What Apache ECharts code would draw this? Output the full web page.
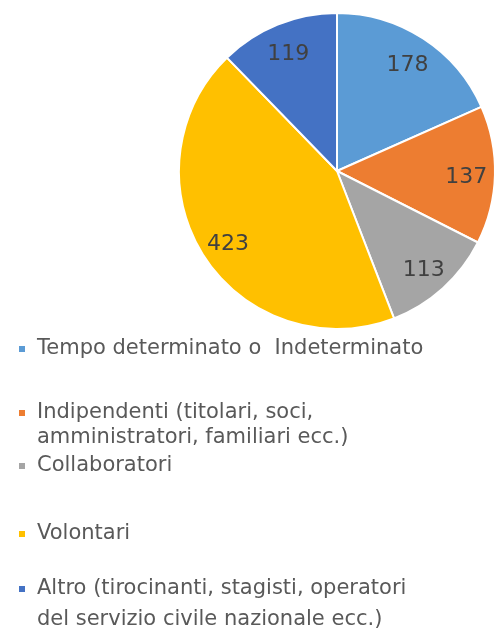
<!DOCTYPE html>
<html>
<head>
<meta charset="utf-8">
<script src="https://cdn.jsdelivr.net/npm/echarts@6/dist/echarts.min.js"></script>
<style>
  html, body { margin: 0; padding: 0; background: #ffffff; }
  #chart { width: 498px; height: 632px; }
</style>
</head>
<body>
<div id="chart"></div>
<script>
// Workforce composition by contract type
const categories = [
  'Tempo determinato o  Indeterminato',
  'Indipendenti (titolari, soci, amministratori, familiari ecc.)',
  'Collaboratori',
  'Volontari',
  'Altro (tirocinanti, stagisti, operatori del servizio civile nazionale ecc.)'
];
const values = [178, 137, 113, 423, 119];
const colors = ['#5B9BD5', '#ED7D31', '#A5A5A5', '#FFC000', '#4472C4'];

// How each legend entry wraps onto lines
const legendLines = [
  ['Tempo determinato o  Indeterminato'],
  ['Indipendenti (titolari, soci,', 'amministratori, familiari ecc.)'],
  ['Collaboratori'],
  ['Volontari'],
  ['Altro (tirocinanti, stagisti, operatori', 'del servizio civile nazionale ecc.)']
];

// Legend layout: vertical centre of each entry's first line, and its line height
const legendRowCenter = [349, 413, 466, 534, 589];
const legendLineHeight = [24, 25, 24, 24, 31];

const FONT = 'DejaVu Sans';
const TEXT_COLOR = '#595959';

const CX = 337, CY = 171, R = 158;

function makeLegend(i) {
  const lines = legendLines[i];
  const lh = legendLineHeight[i];
  const twoLine = lines.length > 1;
  // a leading empty line keeps the marker level with the first text line
  const text = twoLine ? '\n' + lines.join('\n') : lines[0];
  const boxH = twoLine ? lh * 3 : lh;
  return {
    data: [categories[i]],
    orient: 'vertical',
    left: 17,
    top: legendRowCenter[i] - boxH / 2,
    padding: 0,
    icon: 'rect',
    itemWidth: 8,
    itemHeight: 8,
    selectedMode: false,
    formatter: () => text,
    textStyle: {
      fontFamily: FONT,
      fontSize: 21,
      color: TEXT_COLOR,
      lineHeight: lh,
      padding: [0, 0, 0, 6]
    }
  };
}

const pieData = categories.map((name, i) => ({
  name: name,
  value: values[i],
  itemStyle: { color: colors[i] }
}));

const option = {
  backgroundColor: '#ffffff',
  animation: false,
  legend: categories.map((_, i) => makeLegend(i)),
  series: [
    {
      type: 'pie',
      center: [CX, CY],
      radius: [0, R],
      startAngle: 90,
      clockwise: true,
      itemStyle: { borderColor: '#ffffff', borderWidth: 2 },
      label: { show: false },
      labelLine: { show: false },
      emphasis: { disabled: true },
      data: pieData
    },
    {
      // transparent ring that carries the value labels out toward the rim
      type: 'pie',
      center: [CX, CY],
      radius: [R * 0.6, R],
      startAngle: 90,
      clockwise: true,
      silent: true,
      itemStyle: { color: 'rgba(0,0,0,0)', borderWidth: 0 },
      label: {
        show: true,
        position: 'inside',
        rotate: 0,
        formatter: '{c}',
        fontFamily: FONT,
        fontSize: 22,
        color: '#404040'
      },
      labelLayout: { dy: 3 },
      labelLine: { show: false },
      emphasis: { disabled: true },
      data: categories.map((name, i) => ({ name: name, value: values[i] }))
    }
  ]
};

const chart = echarts.init(document.getElementById('chart'), null, { renderer: 'canvas' });
chart.setOption(option);
</script>
</body>
</html>
